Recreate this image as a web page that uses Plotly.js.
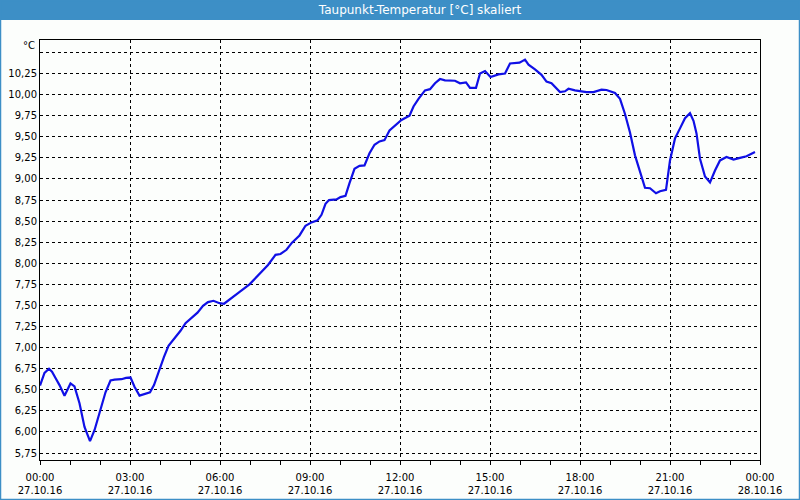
<!DOCTYPE html>
<html>
<head>
<meta charset="utf-8">
<script src="https://cdn.plot.ly/plotly-3.0.1.min.js"></script>
<style>
html,body{margin:0;padding:0;background:#fcfefc;}
#chart{width:800px;height:500px;}
</style>
</head>
<body>
<div id="chart"></div>
<script>
// Time of day (27.10.16) and dew point values [°C]
const times = ["00:00","00:09","00:18","00:24","00:31","00:39","00:49","01:01","01:09","01:19",
"01:29","01:40","01:49","02:01","02:11","02:21","02:29","02:43","02:52","03:01",
"03:09","03:19","03:29","03:40","03:48","03:59","04:08","04:17","04:31","04:41",
"04:51","05:03","05:15","05:26","05:36","05:47","05:59","06:08","06:19","06:36",
"06:59","07:16","07:36","07:51","08:01","08:13","08:24","08:39","08:51","09:03",
"09:15","09:23","09:31","09:38","09:53","10:01","10:11","10:19","10:29","10:39",
"10:49","10:59","11:09","11:19","11:29","11:39","11:53","12:03","12:19","12:27",
"12:37","12:50","13:00","13:10","13:20","13:30","13:50","14:00","14:12","14:20",
"14:32","14:40","14:50","15:01","15:17","15:30","15:40","15:59","16:10","16:17",
"16:30","16:43","16:53","17:03","17:20","17:30","17:37","17:50","18:13","18:27",
"18:43","18:53","19:10","19:20","19:30","19:40","19:50","20:00","20:10","20:20",
"20:32","20:40","20:52","21:00","21:10","21:20","21:30","21:40","21:47","21:53",
"22:00","22:10","22:20","22:30","22:40","22:53","23:07","23:20","23:33","23:43",
"23:50"];
const dewPoint = [6.55,6.70,6.75,6.715,6.64,6.555,6.43,6.575,6.54,6.34,
6.06,5.89,6.02,6.26,6.47,6.61,6.62,6.625,6.64,6.645,
6.535,6.43,6.445,6.47,6.555,6.755,6.89,7.02,7.12,7.20,
7.29,7.35,7.415,7.495,7.54,7.555,7.527,7.52,7.565,7.645,
7.75,7.855,7.98,8.10,8.11,8.16,8.245,8.33,8.445,8.485,
8.51,8.575,8.705,8.75,8.757,8.785,8.80,8.95,9.12,9.155,
9.16,9.305,9.405,9.445,9.46,9.575,9.645,9.70,9.75,9.86,
9.95,10.05,10.065,10.135,10.185,10.17,10.165,10.135,10.145,10.08,
10.08,10.25,10.28,10.21,10.24,10.25,10.37,10.38,10.415,10.355,
10.30,10.235,10.155,10.135,10.03,10.04,10.07,10.05,10.03,10.03,
10.06,10.055,10.02,9.95,9.77,9.55,9.28,9.10,8.895,8.89,
8.83,8.855,8.87,9.22,9.48,9.60,9.72,9.78,9.69,9.54,
9.24,9.03,8.96,9.10,9.22,9.26,9.23,9.25,9.27,9.30,
9.32];
const dayStart = "2016-10-27";
const dayEnd = "2016-10-28 00:00";
const titleText = "Taupunkt-Temperatur [°C] skaliert";
const unitLabel = "°C";
const yTicks = [5.75,6.00,6.25,6.50,6.75,7.00,7.25,7.50,7.75,8.00,8.25,8.50,8.75,9.00,9.25,9.50,9.75,10.00,10.25,10.50];
const yTickText = ["5,75","6,00","6,25","6,50","6,75","7,00","7,25","7,50","7,75","8,00","8,25","8,50","8,75","9,00","9,25","9,50","9,75","10,00","10,25",""];

const xs = times.map(t => dayStart + " " + t);
const barBlue = "rgb(61,143,198)";
const font = "DejaVu Sans, Verdana, sans-serif";

const trace = {
  x: xs, y: dewPoint, type: "scatter", mode: "lines",
  line: {color: "rgb(16,16,230)", width: 2.2},
  hoverinfo: "skip"
};

// paper coords helpers: plot area is 40..760 x 40..460 px
const px = v => (v - 40) / 720;
const py = v => (460 - v) / 420;

const layout = {
  width: 800, height: 500,
  margin: {l: 40, r: 40, t: 40, b: 40},
  paper_bgcolor: "#fcfefc",
  plot_bgcolor: "#fcfefc",
  showlegend: false,
  separators: ",.",
  font: {family: font, size: 10, color: "#000"},
  title: {
    text: titleText, xref: "container", yref: "container",
    x: 0.525, y: 1 - 10/500, xanchor: "center", yanchor: "middle",
    font: {family: font, size: 12, color: "#ffffff"}
  },
  xaxis: {
    type: "date",
    range: [dayStart + " 00:00", dayEnd],
    tick0: dayStart + " 00:00",
    dtick: 3 * 3600 * 1000,
    tickformat: "%H:%M<br>%d.%m.%y",
    ticks: "outside", ticklen: 4, tickcolor: "#000",
    ticklabelstandoff: 4,
    showgrid: true, gridcolor: "#000", griddash: "3px,3px", gridwidth: 1,
    minor: {dtick: 3600 * 1000, ticks: "outside", ticklen: 4, tickcolor: "#000", showgrid: false},
    showline: true, linecolor: "#000", linewidth: 1, mirror: true,
    zeroline: false, fixedrange: true,
    tickfont: {family: font, size: 10, color: "#000"}
  },
  yaxis: {
    range: [5.667, 10.648],
    tickmode: "array", tickvals: yTicks, ticktext: yTickText,
    ticks: "", showgrid: true, gridcolor: "#000", griddash: "3px,3px", gridwidth: 1,
    showline: true, linecolor: "#000", linewidth: 1, mirror: true,
    zeroline: false, fixedrange: true,
    tickfont: {family: font, size: 10, color: "#000"}
  },
  shapes: [
    {type: "rect", xref: "paper", yref: "paper", layer: "below",
     x0: px(0), x1: px(800), y0: py(20), y1: py(0),
     fillcolor: barBlue, line: {width: 0}},
    {type: "rect", xref: "paper", yref: "paper", layer: "above",
     x0: px(0.5), x1: px(799.5), y0: py(499.5), y1: py(0.5),
     fillcolor: "rgba(0,0,0,0)", line: {color: barBlue, width: 1.5}}
  ],
  annotations: [
    {text: unitLabel, xref: "paper", yref: "paper", x: px(37), y: py(46),
     xanchor: "right", yanchor: "middle", showarrow: false,
     font: {family: font, size: 10, color: "#000"}}
  ]
};

Plotly.newPlot("chart", [trace], layout, {displayModeBar: false, staticPlot: true});
</script>
</body>
</html>
